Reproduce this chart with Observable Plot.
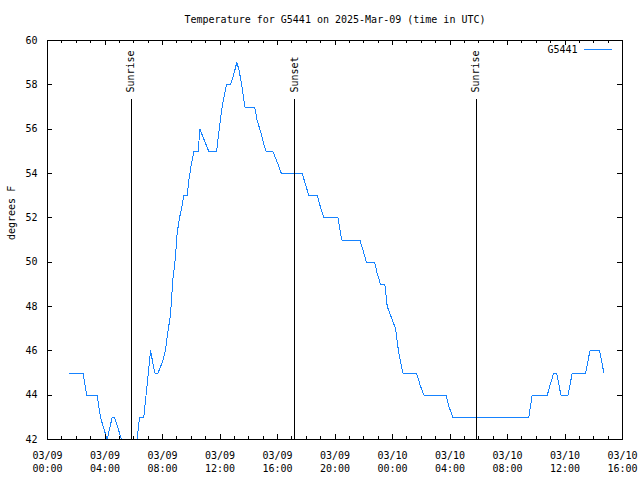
<!DOCTYPE html>
<html>
<head>
<meta charset="utf-8">
<script src="https://cdn.jsdelivr.net/npm/d3@7"></script>
<script src="https://cdn.jsdelivr.net/npm/@observablehq/plot@0.6"></script>
<style>
  html, body { margin: 0; padding: 0; background: white; }
  svg { display: block; }
</style>
</head>
<body>
<div id="chart"></div>
<script>
// ---- data ----
const titleText = "Temperature for G5441 on 2025-Mar-09 (time in UTC)";
const yLabel = "degrees F";
const seriesName = "G5441";

const times = [
  "2025-03-09T01:29Z","2025-03-09T02:28Z","2025-03-09T02:44Z","2025-03-09T03:27Z","2025-03-09T03:41Z",
  "2025-03-09T04:09Z","2025-03-09T04:30Z","2025-03-09T04:40Z","2025-03-09T05:09Z","2025-03-09T05:36Z",
  "2025-03-09T05:59Z","2025-03-09T06:14Z","2025-03-09T06:24Z","2025-03-09T06:42Z","2025-03-09T07:10Z",
  "2025-03-09T07:28Z","2025-03-09T07:41Z","2025-03-09T08:00Z","2025-03-09T08:12Z","2025-03-09T08:18Z",
  "2025-03-09T08:34Z","2025-03-09T08:43Z","2025-03-09T08:54Z","2025-03-09T09:01Z","2025-03-09T09:11Z",
  "2025-03-09T09:22Z","2025-03-09T09:29Z","2025-03-09T09:43Z","2025-03-09T09:50Z","2025-03-09T10:00Z",
  "2025-03-09T10:11Z","2025-03-09T10:29Z","2025-03-09T10:36Z","2025-03-09T11:13Z","2025-03-09T11:46Z",
  "2025-03-09T11:52Z","2025-03-09T11:59Z","2025-03-09T12:09Z","2025-03-09T12:19Z","2025-03-09T12:27Z",
  "2025-03-09T12:44Z","2025-03-09T12:58Z","2025-03-09T13:10Z","2025-03-09T13:19Z","2025-03-09T13:32Z",
  "2025-03-09T13:44Z","2025-03-09T14:25Z","2025-03-09T14:35Z","2025-03-09T14:49Z","2025-03-09T15:03Z",
  "2025-03-09T15:13Z","2025-03-09T15:40Z","2025-03-09T15:52Z","2025-03-09T16:03Z","2025-03-09T16:16Z",
  "2025-03-09T17:43Z","2025-03-09T17:57Z","2025-03-09T18:11Z","2025-03-09T18:46Z","2025-03-09T18:59Z",
  "2025-03-09T19:13Z","2025-03-09T20:13Z","2025-03-09T20:20Z","2025-03-09T20:28Z","2025-03-09T21:44Z",
  "2025-03-09T21:58Z","2025-03-09T22:11Z","2025-03-09T22:45Z","2025-03-09T22:56Z","2025-03-09T23:10Z",
  "2025-03-09T23:28Z","2025-03-09T23:38Z","2025-03-09T23:59Z","2025-03-10T00:13Z","2025-03-10T00:26Z",
  "2025-03-10T00:43Z","2025-03-10T01:40Z","2025-03-10T01:57Z","2025-03-10T02:11Z","2025-03-10T03:44Z",
  "2025-03-10T03:55Z","2025-03-10T04:12Z","2025-03-10T09:29Z","2025-03-10T09:43Z","2025-03-10T10:46Z",
  "2025-03-10T10:59Z","2025-03-10T11:13Z","2025-03-10T11:25Z","2025-03-10T11:43Z","2025-03-10T12:13Z",
  "2025-03-10T12:20Z","2025-03-10T12:30Z","2025-03-10T13:26Z","2025-03-10T13:44Z","2025-03-10T14:24Z",
  "2025-03-10T14:32Z","2025-03-10T14:42Z"
];
const temps = [
  45, 45, 44, 44, 43,
  42, 43, 43, 42, 41,
  41, 42, 43, 43, 46,
  45, 45, 45.5, 46, 46.5,
  47.7, 49.2, 50.2, 51.3, 52.0,
  52.55, 53, 53, 53.7, 54.4,
  55, 55, 56, 55, 55,
  55.6, 56.2, 57, 57.6, 58,
  58, 58.5, 59, 58.7, 57.9,
  57, 57, 56.4, 55.9, 55.3,
  55, 55, 54.7, 54.4, 54,
  54, 53.5, 53, 53, 52.5,
  52, 52, 51.5, 51, 51,
  50.5, 50, 50, 49.5, 49,
  49, 48, 47.4, 47, 45.9,
  45, 45, 44.4, 44, 44,
  43.5, 43, 43, 44, 44,
  44.5, 45, 45, 44, 44,
  44.4, 45, 45, 46, 46,
  45.6, 45
];

const eventNames = ["Sunrise", "Sunset", "Sunrise"];
const eventTimes = ["2025-03-09T05:49Z", "2025-03-09T17:12Z", "2025-03-10T05:49Z"];

const xDomain = ["2025-03-09T00:00Z", "2025-03-10T16:00Z"];
const xTickTimes = [
  "2025-03-09T00:00Z","2025-03-09T04:00Z","2025-03-09T08:00Z","2025-03-09T12:00Z",
  "2025-03-09T16:00Z","2025-03-09T20:00Z","2025-03-10T00:00Z","2025-03-10T04:00Z",
  "2025-03-10T08:00Z","2025-03-10T12:00Z","2025-03-10T16:00Z"
];
const xTickLabels = [
  "03/09\n00:00","03/09\n04:00","03/09\n08:00","03/09\n12:00",
  "03/09\n16:00","03/09\n20:00","03/10\n00:00","03/10\n04:00",
  "03/10\n08:00","03/10\n12:00","03/10\n16:00"
];
const yTicks = [42, 44, 46, 48, 50, 52, 54, 56, 58, 60];

// ---- build ----
const data = times.map((t, i) => ({time: new Date(t), temp: temps[i]}));
const events = eventTimes.map((t, i) => ({time: new Date(t), name: eventNames[i]}));
const majorX = xTickTimes.map(t => new Date(t));
const labelOf = new Map(majorX.map((d, i) => [+d, xTickLabels[i]]));
const domainX = xDomain.map(t => new Date(t));
const minorX = d3.utcHour.range(domainX[0], new Date(+domainX[1] + 1));

const W = 640, H = 480;
const mL = 47, mR = 18, mT = 40, mB = 41;
const fw = W - mL - mR, fh = H - mT - mB;
const lineColor = "#1683ff";

const chart = Plot.plot({
  width: W, height: H,
  marginLeft: mL, marginRight: mR, marginTop: mT, marginBottom: mB,
  style: {fontFamily: "'DejaVu Sans Mono', monospace", fontSize: "10px", background: "white", color: "black", overflow: "visible"},
  x: {type: "utc", domain: domainX},
  y: {domain: [42, 60]},
  marks: [
    Plot.line(data, {x: "time", y: "temp", stroke: lineColor, strokeWidth: 1, clip: true}),
    Plot.ruleX(events, {x: "time", insetTop: 59, stroke: "black", strokeWidth: 1}),
    Plot.text(events, {x: "time", text: "name", frameAnchor: "top", dy: 52, rotate: -90, textAnchor: "start", lineAnchor: "middle", fill: "black"}),
    // ticks (inside, mirrored)
    Plot.tickX(minorX, {x: d => d, insetTop: fh - 3, stroke: "black"}),
    Plot.tickX(minorX, {x: d => d, insetBottom: fh - 3, stroke: "black"}),
    Plot.tickX(majorX, {x: d => d, insetTop: fh - 5, stroke: "black"}),
    Plot.tickX(majorX, {x: d => d, insetBottom: fh - 5, stroke: "black"}),
    Plot.tickY(yTicks, {y: d => d, insetRight: fw - 5, stroke: "black"}),
    Plot.tickY(yTicks, {y: d => d, insetLeft: fw - 5, stroke: "black"}),
    Plot.frame({stroke: "black", strokeWidth: 1}),
    Plot.axisX(majorX, {anchor: "bottom", tickSize: 0, tickPadding: 11, label: null, lineHeight: 1.25, tickFormat: d => labelOf.get(+d)}),
    Plot.axisY(yTicks, {anchor: "left", tickSize: 0, tickPadding: 10, label: null}),
    Plot.text([titleText], {frameAnchor: "top", dy: -21, text: d => d, lineAnchor: "middle", fill: "black"}),
    Plot.text([yLabel], {frameAnchor: "left", dx: -36, rotate: -90, text: d => d, lineAnchor: "middle", fill: "black"}),
    Plot.text([seriesName], {frameAnchor: "top-right", dx: -45, dy: 9, text: d => d, textAnchor: "end", lineAnchor: "middle", fill: "black"})
  ]
});

// legend sample line
d3.select(chart).append("line")
  .attr("x1", W - mR - 38).attr("x2", W - mR - 10)
  .attr("y1", mT + 9).attr("y2", mT + 9)
  .attr("stroke", lineColor).attr("stroke-width", 1);

d3.select(chart).attr("shape-rendering", "crispEdges");
document.getElementById("chart").appendChild(chart);
</script>
</body>
</html>
